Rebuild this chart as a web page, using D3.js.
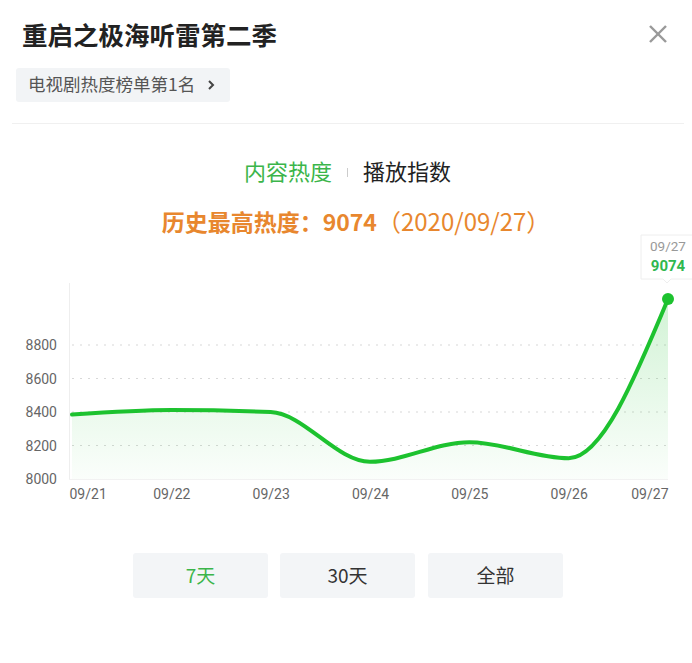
<!DOCTYPE html>
<html><head><meta charset="utf-8">
<script src="https://cdn.jsdelivr.net/npm/d3@7"></script>
<style>
html,body{margin:0;padding:0;background:#fff;}
svg{display:block;font-family:"Noto Sans CJK SC","Noto Sans",sans-serif;}
</style></head>
<body><svg id="c" width="692" height="663"></svg>
<script>
const title = "重启之极海听雷第二季";
const tagText = "电视剧热度榜单第1名";
const tabs = ["内容热度", "播放指数"];
const dates = ["09/21","09/22","09/23","09/24","09/25","09/26","09/27"];
const values = [8385, 8412, 8400, 8103, 8220, 8124, 9074];
const yTicks = [8000, 8200, 8400, 8600, 8800];
const ranges = ["7天", "30天", "全部"];
const peakValue = 9074;
const peakDate = "2020/09/27";

const svg = d3.select("#c");
const green = "#1dc22f";

// header
svg.append("text").attr("x",22).attr("y",45).attr("font-size",25.5).attr("font-weight",700)
  .attr("fill","#222").text(title);
svg.append("g").attr("stroke","#999").attr("stroke-width",2.4)
  .selectAll("line").data([[650,26,666,42],[666,26,650,42]]).join("line")
  .attr("x1",d=>d[0]).attr("y1",d=>d[1]).attr("x2",d=>d[2]).attr("y2",d=>d[3]);
svg.append("rect").attr("x",16).attr("y",68).attr("width",214).attr("height",34).attr("rx",3).attr("fill","#f2f4f6");
svg.append("text").attr("x",28).attr("y",91).attr("font-size",17.5).attr("fill","#555").text(tagText);
svg.append("path").attr("d","M209,81 L213,85 L209,89").attr("fill","none").attr("stroke","#444").attr("stroke-width",2);
svg.append("line").attr("x1",12).attr("x2",684).attr("y1",123.5).attr("y2",123.5).attr("stroke","#f0f0f0");

// tabs
svg.append("text").attr("x",288).attr("y",180).attr("text-anchor","middle").attr("font-size",22).attr("fill","#3bb54a").text(tabs[0]);
svg.append("line").attr("x1",347.5).attr("x2",347.5).attr("y1",168).attr("y2",177).attr("stroke","#ccc");
svg.append("text").attr("x",407).attr("y",180).attr("text-anchor","middle").attr("font-size",22).attr("fill","#222").text(tabs[1]);

// peak text
const pk = svg.append("text").attr("x",356).attr("y",231).attr("text-anchor","middle").attr("font-size",23).attr("fill","#e8872e");
pk.append("tspan").attr("font-weight",700).text("历史最高热度：");
pk.append("tspan").attr("font-weight",700).text(peakValue);
pk.append("tspan").attr("font-size",24).text("（" + peakDate + "）");

// chart
const x = d3.scalePoint().domain(dates).range([72, 668]);
const y = d3.scaleLinear().domain([8000, 8800]).range([479, 345]);

svg.append("line").attr("x1",69.5).attr("x2",69.5).attr("y1",283).attr("y2",479).attr("stroke","#eee");
svg.append("line").attr("x1",69).attr("x2",668).attr("y1",479.5).attr("y2",479.5).attr("stroke","#f2f2f2");

const grid = svg.append("g");
grid.selectAll("line").data(yTicks.filter(t=>t>8000)).join("line")
  .attr("x1",72).attr("x2",668).attr("y1",d=>y(d)).attr("y2",d=>y(d))
  .attr("stroke","#d8d8d8").attr("stroke-width",1.2).attr("stroke-dasharray","2,6");

const yAxis = d3.axisLeft(y).tickValues(yTicks).tickSize(0).tickPadding(0).tickFormat(d3.format("d"));
const ya = svg.append("g").attr("transform","translate(57,0)").call(yAxis);
ya.select(".domain").remove();
ya.selectAll("text").attr("font-size",14).attr("fill","#666").attr("font-family","Roboto,sans-serif").attr("dy","0.35em");

const xAxis = d3.axisBottom(x).tickSize(0).tickPadding(0);
const xa = svg.append("g").attr("transform","translate(0,489)").call(xAxis);
xa.select(".domain").remove();
xa.selectAll("text").attr("font-size",14).attr("fill","#666").attr("font-family","Roboto,sans-serif")
  .attr("text-anchor",(d,i)=> i===0 ? "start" : (i===dates.length-1 ? "end" : "middle"))
  .attr("dx",(d,i)=> i===0 ? -3 : 0);

const defs = svg.append("defs");
const lgFill = defs.append("linearGradient").attr("id","ag2").attr("gradientUnits","userSpaceOnUse")
  .attr("x1",0).attr("y1",y(9074)).attr("x2",0).attr("y2",479);
lgFill.append("stop").attr("offset","0%").attr("stop-color",green).attr("stop-opacity",0.2);
lgFill.append("stop").attr("offset","100%").attr("stop-color",green).attr("stop-opacity",0.02);

const data = dates.map((d,i)=>({d, v: values[i]}));
const curve = d3.curveMonotoneX;
const area = d3.area().x(p=>x(p.d)).y0(479).y1(p=>y(p.v)).curve(curve);
const line = d3.line().x(p=>x(p.d)).y(p=>y(p.v)).curve(curve);
svg.append("path").datum(data).attr("d",area).attr("fill","url(#ag2)");
svg.append("path").datum(data).attr("d",line).attr("fill","none").attr("stroke",green).attr("stroke-width",4).attr("stroke-linecap","round");

const last = data[data.length-1];
svg.append("circle").attr("cx",x(last.d)).attr("cy",y(last.v)).attr("r",6).attr("fill",green);

// tooltip
const tx = x(last.d) - 27, ty = 235;
svg.append("path").attr("d",`M${tx},${ty} h52 v44 h-22 l-4,4 l-4,-4 h-22 z`)
  .attr("fill","#fff").attr("stroke","#eee");
svg.append("text").attr("x",tx+27).attr("y",ty+16).attr("text-anchor","middle").attr("font-size",13.5)
  .attr("fill","#999").attr("font-family","Roboto,sans-serif").text(last.d);
svg.append("text").attr("x",tx+27).attr("y",ty+36).attr("text-anchor","middle").attr("font-size",15).attr("font-weight",700)
  .attr("fill","#2fb84e").attr("font-family","Roboto,sans-serif").text(last.v);

// range buttons
const bx = [133, 280, 428];
const bg = svg.append("g").selectAll("g").data(ranges).join("g");
bg.append("rect").attr("x",(d,i)=>bx[i]).attr("y",553).attr("width",135).attr("height",45).attr("rx",3).attr("fill","#f3f5f7");
bg.append("text").attr("x",(d,i)=>bx[i]+67.5).attr("y",583).attr("text-anchor","middle").attr("font-size",19)
  .attr("fill",(d,i)=> i===0 ? "#3bb54a" : "#333").text(d=>d);
</script></body></html>
